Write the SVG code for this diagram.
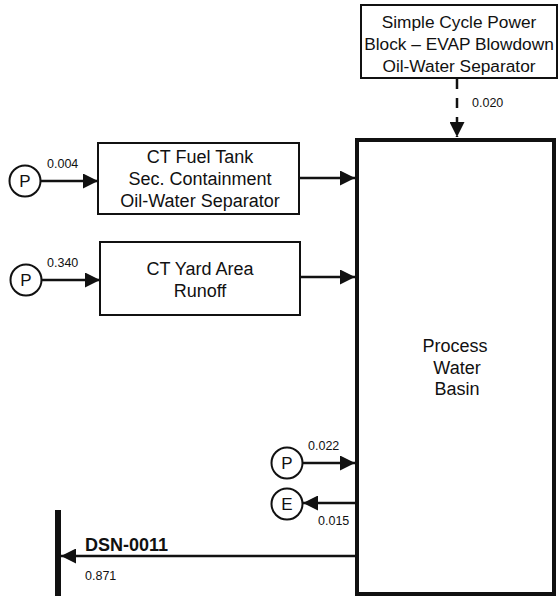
<svg xmlns="http://www.w3.org/2000/svg" width="560" height="596" viewBox="0 0 560 596">
<style>
  text { font-family: "Liberation Sans", Arial, sans-serif; fill: #111; }
  .box { fill: #fff; stroke: #111; stroke-width: 2; }
  .basin { fill: #fff; stroke: #111; stroke-width: 4; }
  .circ { fill: #fff; stroke: #111; stroke-width: 2; }
  .lbl { font-size: 18px; text-anchor: middle; }
  .top { font-size: 17.3px; }
  .num { font-size: 12.5px; }
  .pe { font-size: 17px; text-anchor: middle; }
  .conn { stroke: #111; stroke-width: 2.5; fill: none; }
</style>
<defs>
  <marker id="arr" viewBox="0 0 15 15" refX="15" refY="7.5" markerWidth="15" markerHeight="15" markerUnits="userSpaceOnUse" orient="auto">
    <path d="M0,0 L15,7.5 L0,15 z" fill="#111"/>
  </marker>
</defs>

<g id="simple-cycle">
  <rect class="box" x="361" y="5" width="196" height="73"/>
  <text class="lbl top" x="459" y="28">Simple Cycle Power</text>
  <text class="lbl top" x="459" y="50">Block – EVAP Blowdown</text>
  <text class="lbl top" x="459" y="72">Oil-Water Separator</text>
</g>

<g id="basin">
  <rect class="basin" x="357" y="140" width="197" height="454"/>
  <text class="lbl" x="455" y="352">Process</text>
  <text class="lbl" x="457" y="374">Water</text>
  <text class="lbl" x="457" y="395">Basin</text>
</g>

<g id="fuel-tank">
  <rect class="box" x="98" y="143" width="201" height="71"/>
  <text class="lbl" x="200" y="163">CT Fuel Tank</text>
  <text class="lbl" x="200" y="185">Sec. Containment</text>
  <text class="lbl" x="200" y="207">Oil-Water Separator</text>
</g>

<g id="yard-runoff">
  <rect class="box" x="100" y="242" width="200" height="73"/>
  <text class="lbl" x="200" y="275">CT Yard Area</text>
  <text class="lbl" x="200" y="297">Runoff</text>
</g>

<g id="p-fuel">
  <circle class="circ" cx="25" cy="181" r="15.5"/>
  <text class="pe" x="25" y="187">P</text>
</g>
<g id="p-yard">
  <circle class="circ" cx="26" cy="280" r="15.5"/>
  <text class="pe" x="26" y="286">P</text>
</g>
<g id="p-basin">
  <circle class="circ" cx="287" cy="463" r="15.5"/>
  <text class="pe" x="287" y="469">P</text>
</g>
<g id="e-basin">
  <circle class="circ" cx="287" cy="504" r="15.5"/>
  <text class="pe" x="287" y="510">E</text>
</g>

<g id="outfall">
  <line x1="58" y1="510" x2="58" y2="596" stroke="#111" stroke-width="6"/>
</g>

<g id="connectors">
  <line class="conn" x1="457" y1="79" x2="457" y2="137" stroke-width="3" stroke-dasharray="10,9" marker-end="url(#arr)"/>
  <line class="conn" x1="41" y1="181" x2="98" y2="181" marker-end="url(#arr)"/>
  <line class="conn" x1="299" y1="178" x2="355" y2="178" marker-end="url(#arr)"/>
  <line class="conn" x1="42" y1="280" x2="100" y2="280" marker-end="url(#arr)"/>
  <line class="conn" x1="300" y1="277" x2="355" y2="277" marker-end="url(#arr)"/>
  <line class="conn" x1="303" y1="463" x2="355" y2="463" marker-end="url(#arr)"/>
  <line class="conn" x1="355" y1="503" x2="303" y2="503" marker-end="url(#arr)"/>
  <line class="conn" x1="357" y1="556" x2="61" y2="556" marker-end="url(#arr)"/>
</g>

<g id="flow-labels">
  <text class="num" x="472" y="107">0.020</text>
  <text class="num" x="47" y="168">0.004</text>
  <text class="num" x="47" y="267">0.340</text>
  <text class="num" x="308" y="450">0.022</text>
  <text class="num" x="318" y="525">0.015</text>
  <text x="85" y="551" style="font-size:18px;font-weight:bold">DSN-0011</text>
  <text class="num" x="85" y="580">0.871</text>
</g>
</svg>
